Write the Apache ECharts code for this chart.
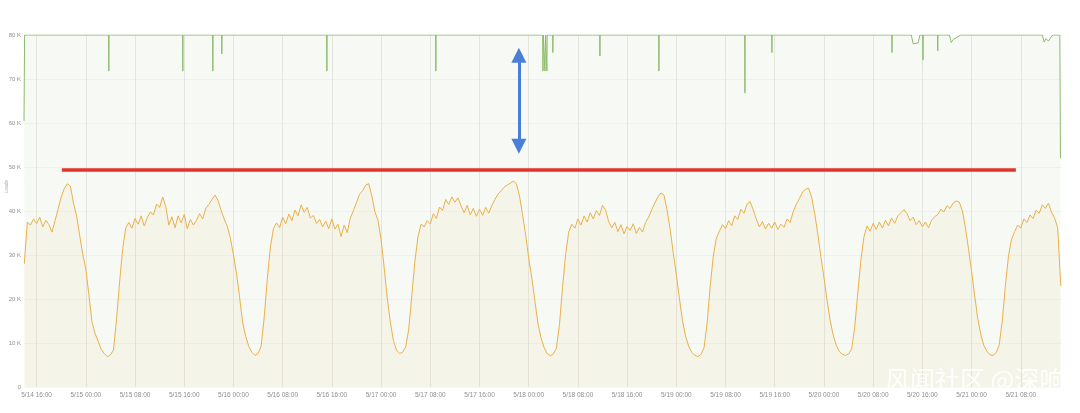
<!DOCTYPE html>
<html><head><meta charset="utf-8">
<script src="https://cdn.jsdelivr.net/npm/echarts@6/dist/echarts.min.js"></script>
<style>html,body{margin:0;padding:0;background:#fff}#c{width:1080px;height:413px}</style>
</head><body><div id="c"></div>
<script>
// x values are hours counted from 5/14 00:00; y values in thousands
const startHour = 14, stepHours = 0.5;
const load_0514 = [28, 37.5, 36.8, 38.2, 37.1, 38.6, 36.4, 37.9, 36.9, 35.2, 37.8, 40.5, 43.2, 45.1, 46.2, 45.6, 41.8, 38.9, 34.5, 30.2];
const load_0515 = [26.8, 21, 14.8, 12.2, 10.4, 8.6, 7.6, 6.9, 7.3, 8.4, 15.5, 24, 31.5, 36.2, 37.4, 36.1, 38.3, 37.0, 38.9, 36.6, 38.5, 39.8, 39.1, 41.6, 40.8, 43.2, 41.0, 36.8, 38.7, 36.2, 38.9, 37.3, 39.2, 36.0, 38.1, 36.8, 37.9, 39.4, 38.2, 40.6, 41.5, 42.6, 43.6, 42.4, 40.1, 38.2, 36.5, 33.8];
const load_0516 = [30.1, 25.8, 20.4, 14.6, 11.5, 9.2, 7.9, 7.2, 7.6, 9.3, 15.8, 24.5, 31.8, 36.0, 37.3, 36.2, 38.6, 37.1, 39.3, 37.8, 40.2, 38.9, 41.4, 39.7, 40.8, 38.4, 39.0, 37.2, 38.1, 36.4, 37.7, 36.0, 38.2, 35.9, 37.0, 34.2, 36.8, 35.1, 38.4, 40.1, 41.9, 43.8, 44.6, 45.9, 46.2, 43.4, 39.8, 37.9];
const load_0517 = [33.5, 27.2, 20.3, 14.8, 10.6, 8.4, 7.6, 7.9, 9.1, 13.2, 20.8, 28.6, 34.2, 37.0, 36.4, 37.8, 37.1, 39.4, 38.3, 40.9, 40.1, 42.6, 41.5, 43.2, 42.0, 43.0, 41.2, 39.6, 41.3, 39.1, 40.6, 38.8, 40.4, 39.0, 40.8, 39.5, 41.2, 42.6, 43.8, 44.6, 45.4, 45.9, 46.3, 46.8, 46.2, 43.5, 39.2, 34.6];
const load_0518 = [29.4, 24.8, 19.6, 14.5, 11.2, 9.0, 7.6, 7.1, 7.5, 8.8, 14.2, 22.6, 30.1, 35.2, 37.0, 36.1, 38.2, 36.8, 38.9, 37.5, 39.6, 38.2, 40.1, 39.0, 41.3, 40.2, 37.6, 36.2, 37.4, 35.3, 36.9, 34.8, 36.5, 35.6, 37.1, 34.9, 36.3, 35.2, 37.4, 38.6, 40.3, 41.8, 43.2, 44.1, 43.6, 40.2, 35.8, 30.5];
const load_0519 = [25.6, 20.2, 15.1, 11.6, 9.3, 7.9, 7.2, 6.9, 7.4, 8.9, 14.5, 22.8, 29.6, 33.8, 35.4, 36.9, 36.0, 37.8, 36.6, 38.9, 38.1, 40.4, 39.5, 41.6, 42.1, 40.3, 38.2, 36.4, 37.6, 35.9, 37.2, 36.1, 37.5, 35.8, 37.0, 36.3, 38.2, 37.4, 39.8, 41.5, 42.8, 44.3, 44.9, 45.2, 43.1, 39.4, 34.8, 29.6];
const load_0520 = [24.9, 19.8, 15.2, 11.8, 9.5, 8.1, 7.4, 7.2, 7.5, 8.7, 13.6, 21.4, 28.8, 34.1, 36.6, 35.4, 37.2, 35.8, 37.5, 36.1, 37.9, 36.6, 38.4, 37.2, 38.9, 39.6, 40.3, 39.4, 37.8, 38.6, 36.9, 37.8, 36.4, 37.5, 36.2, 37.9, 38.7, 39.2, 40.4, 39.8, 41.2, 40.6, 41.8, 42.3, 42.0, 40.1, 36.2, 31.4];
const load_0521 = [26.3, 20.8, 15.6, 11.9, 9.4, 8.1, 7.3, 7.2, 7.8, 9.6, 15.2, 23.1, 29.8, 33.6, 35.3, 36.8, 36.1, 38.2, 37.4, 39.1, 38.3, 40.2, 39.5, 41.4, 40.6, 41.8, 39.7, 38.4, 36.2, 23.0];

// capacity line vertices (hour, value)
const capHours = [13.95, 14.05, 27.70, 27.74, 27.78, 39.73, 39.77, 39.81, 44.61, 44.65, 44.69, 46.07, 46.11, 46.15, 63.15, 63.19, 63.23, 80.87, 80.91, 80.95, 98.27, 98.31, 98.40, 98.63, 98.75, 98.96, 99.00, 99.89, 99.93, 99.97, 107.54, 107.58, 107.62, 117.13, 117.17, 117.21, 131.11, 131.15, 131.19, 135.50, 135.54, 135.58, 155.02, 155.06, 155.10, 158.2, 158.5, 159.3, 159.6, 160.06, 160.10, 160.14, 162.46, 162.50, 162.54, 164.4, 164.7, 165.0, 165.3, 165.8, 166.2, 179.5, 179.8, 180.1, 180.5, 180.9, 181.2, 182.35, 182.45];
const capValues = [60.5, 80, 80, 71.8, 80, 80, 71.8, 80, 80, 71.8, 80, 80, 75.7, 80, 80, 71.8, 80, 80, 71.8, 80, 80, 71.8, 80, 71.8, 80, 71.8, 80, 80, 76, 80, 80, 75.2, 80, 80, 71.8, 80, 80, 66.8, 80, 80, 76, 80, 80, 76, 80, 80, 78.0, 78.2, 80, 80, 74.3, 80, 80, 76.4, 80, 80, 78.3, 79.0, 78.6, 79.6, 80, 80, 78.4, 79.2, 78.6, 79.5, 80, 80, 52];

const tickHours = [16, 24, 32, 40, 48, 56, 64, 72, 80, 88, 96, 104, 112, 120, 128, 136, 144, 152, 160, 168, 176];
const thresholdHours = [20.1, 175.2], thresholdValues = [49.3, 49.3];
const arrowHour = 94.4, arrowValues = [75.4, 54.7];
const watermark = '风闻社区 @深响';
const yName = 'Loads';

const loadValues = [].concat(load_0514, load_0515, load_0516, load_0517, load_0518, load_0519, load_0520, load_0521);
const loadData = loadValues.map((v, i) => [startHour + i * stepHours, v]);
const capData = capHours.map((h, i) => [h, capValues[i]]);
const pad = n => (n < 10 ? '0' : '') + n;
const fmtHour = h => `5/${14 + Math.floor(h / 24)} ${pad(h % 24)}:00`;

const chart = echarts.init(document.getElementById('c'));
chart.setOption({
  animation: false,
  backgroundColor: '#fff',
  grid: { left: 24, right: 18, top: 35, bottom: 26 },
  xAxis: {
    type: 'value', min: 13.95, max: 182.7,
    axisLine: { show: false },
    axisTick: { show: false, customValues: tickHours },
    axisLabel: { customValues: tickHours, formatter: fmtHour, fontSize: 6.5, color: '#8f8f8f', margin: 5, fontFamily: 'Liberation Sans' },
    splitLine: { show: true, lineStyle: { color: '#e9e9e6', width: 1 } }
  },
  yAxis: {
    type: 'value', min: 0, max: 80, interval: 10,
    axisLine: { show: false }, axisTick: { show: false },
    axisLabel: { formatter: v => v === 0 ? '0' : v + ' K', fontSize: 6, color: '#8f8f8f', margin: 3, fontFamily: 'Liberation Sans' },
    splitLine: { show: true, lineStyle: { color: 'rgba(0,0,0,0.03)', width: 1 } }
  },
  graphic: [
    { type: 'text', left: 4, top: 180, rotation: Math.PI / 2, style: { text: yName, fontSize: 5, fill: '#aaa', fontFamily: 'Liberation Sans' } },
    { type: 'text', left: 885, top: 367, z: 100, style: { text: watermark, fontSize: 25, fill: 'rgba(255,255,255,0.88)', fontFamily: 'Noto Sans CJK SC' } }
  ],
  series: [
    {
      type: 'line', data: capData, symbol: 'none', z: 2,
      lineStyle: { color: '#8dbb6c', width: 1 },
      areaStyle: { color: 'rgba(180,210,150,0.15)' }
    },
    {
      type: 'line', data: loadData, symbol: 'none', z: 3,
      lineStyle: { color: '#ebb04a', width: 1 },
      areaStyle: { color: 'rgba(235,195,130,0.14)' }
    },
    {
      type: 'line', data: thresholdHours.map((h, i) => [h, thresholdValues[i]]), symbol: 'none', z: 5,
      lineStyle: { color: '#e0352b', width: 3.5 }
    },
    {
      type: 'line', data: [], z: 6,
      markLine: {
        silent: true, symbol: ['triangle', 'triangle'], symbolSize: 15, label: { show: false },
        lineStyle: { color: '#4a7fd8', width: 3, type: 'solid' },
        data: [[{ coord: [arrowHour, arrowValues[0]] }, { coord: [arrowHour, arrowValues[1]] }]]
      }
    }
  ]
});
</script></body></html>
